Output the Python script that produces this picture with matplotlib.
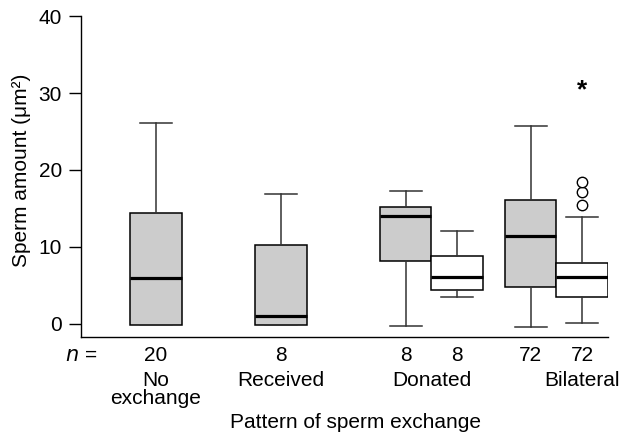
import matplotlib
matplotlib.use("Agg")
import matplotlib.pyplot as plt

plt.rcParams['font.family'] = ['Liberation Sans', 'DejaVu Sans']

# box stats
positions = [1, 2, 3, 3.41, 4, 4.41]
whislo = [-0.2, -0.2, -0.3, 3.4, -0.4, 0.1]
q1 = [-0.2, -0.2, 8.2, 4.3, 4.8, 3.5]
med = [5.9, 1.0, 14.0, 6.0, 11.4, 6.1]
q3 = [14.4, 10.2, 15.2, 8.8, 16.1, 7.9]
whishi = [26.1, 16.8, 17.2, 12.1, 25.7, 13.9]
fliers = [[], [], [], [], [], [15.4, 17.1, 18.4]]
fills = ['#cccccc', '#cccccc', '#cccccc', 'white', '#cccccc', 'white']

n_labels = ['20', '8', '8', '8', '72', '72']
group_names = ['No\nexchange', 'Received', 'Donated', 'Bilateral']
group_x = [1, 2, 3.205, 4.41]

stats = []
for i in range(len(positions)):
    stats.append({'whislo': whislo[i], 'q1': q1[i], 'med': med[i],
                  'q3': q3[i], 'whishi': whishi[i], 'fliers': fliers[i]})

fs = 15

fig = plt.figure(figsize=(6.23, 4.37), dpi=100)
ax = fig.add_axes([0.130, 0.228, 0.846, 0.735])

bp = ax.bxp(stats, positions=positions, widths=0.41, capwidths=0.26,
            patch_artist=True, showfliers=True,
            boxprops=dict(edgecolor='black', linewidth=1.1),
            whiskerprops=dict(color='#333333', linewidth=1.1),
            capprops=dict(color='#333333', linewidth=1.1),
            medianprops=dict(color='black', linewidth=2.3),
            flierprops=dict(marker='o', markerfacecolor='white',
                            markeredgecolor='black', markersize=7.5,
                            markeredgewidth=1))
for patch, c in zip(bp['boxes'], fills):
    patch.set_facecolor(c)
    patch.set_zorder(2)
for m in bp['medians']:
    m.set_zorder(3)

ax.set_xlim(0.4, 4.618)
ax.set_ylim(-1.8, 40)
ax.set_yticks([0, 10, 20, 30, 40])
ax.set_xticks([])
ax.tick_params(axis='y', length=8.6, width=1, labelsize=fs, pad=5)
for s in ['top', 'right']:
    ax.spines[s].set_visible(False)
for s in ['left', 'bottom']:
    ax.spines[s].set_linewidth(1)

ax.set_ylabel('Sperm amount (μm²)', fontsize=fs)
ax.yaxis.set_label_coords(-0.094, 0.52)

tr = ax.get_xaxis_transform()
ax.text(0.4, -0.058, '$n$ =', transform=tr, ha='center', va='center', fontsize=fs)
for x, lab in zip(positions, n_labels):
    ax.text(x, -0.058, lab, transform=tr, ha='center', va='center', fontsize=fs)
for x, lab in zip(group_x, group_names):
    ax.text(x, -0.105, lab, transform=tr, ha='center', va='top', fontsize=fs,
            linespacing=0.9)

ax.text(4.41, 30.3, '*', ha='center', va='center', fontsize=19, fontweight='bold')

fig.text(355 / 623, 1 - 423 / 437, 'Pattern of sperm exchange', ha='center',
         va='center', fontsize=fs)

fig.savefig('out.png', dpi=100)
